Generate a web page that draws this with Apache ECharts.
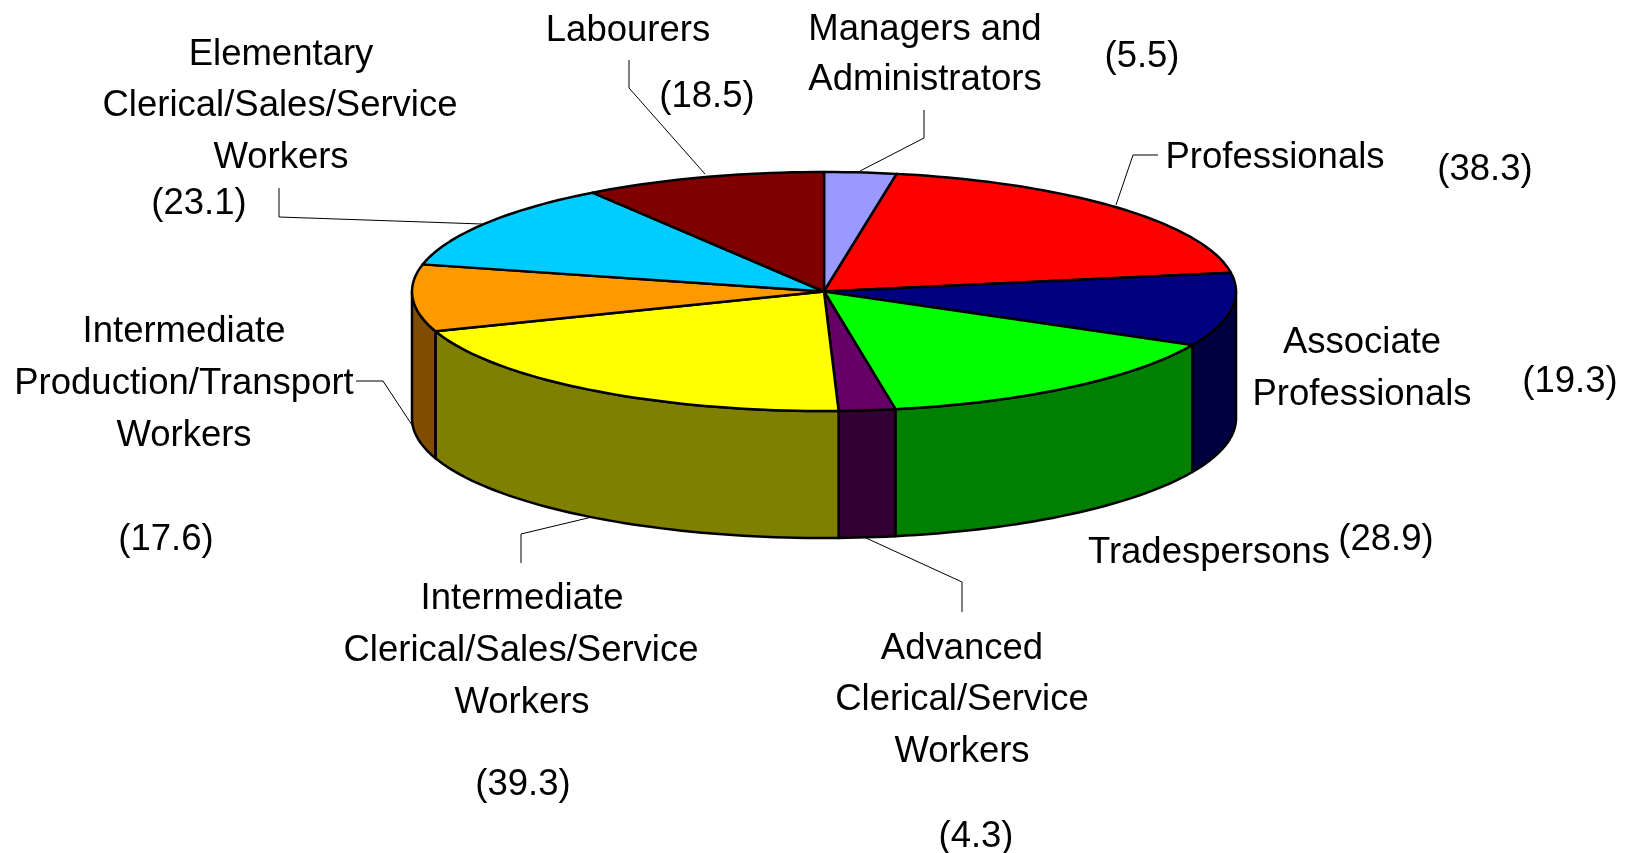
<!DOCTYPE html>
<html><head><meta charset="utf-8">
<style>html,body{margin:0;padding:0;background:#fff}#c{width:1631px;height:853px}</style>
<script src="https://cdn.jsdelivr.net/npm/echarts@6/dist/echarts.min.js"></script>
</head><body><div id="c"></div>
<script>
const categories = ['Managers and Administrators','Professionals','Associate Professionals','Tradespersons','Advanced Clerical/Service Workers','Intermediate Clerical/Sales/Service Workers','Intermediate Production/Transport Workers','Elementary Clerical/Sales/Service Workers','Labourers'];
const values = [5.5,38.3,19.3,28.9,4.3,39.3,17.6,23.1,18.5];
const topColors = ['#9999FF','#FF0000','#000080','#00FF00','#660066','#FFFF00','#FF9900','#00CCFF','#800000'];
const wallColors = ['#4C4C80','#800000','#000040','#008000','#330033','#808000','#804C00','#006680','#400000'];

// layout of the tilted disc
const CX = 824, CY = 291.5, RX = 412, RY = 119.5, DEPTH = 127;
// [text, x, y] centre of each text line
const textLayout = [
 ['Managers and',925,30],['Administrators',925,80],['(5.5)',1142,57],
 ['Professionals',1275,158],['(38.3)',1485,170],
 ['Associate',1362,343],['Professionals',1362,395],['(19.3)',1570,382],
 ['Tradespersons',1209,553],['(28.9)',1386,540],
 ['Advanced',962,649],['Clerical/Service',962,700],['Workers',962,752],['(4.3)',976,837],
 ['Intermediate',522,599],['Clerical/Sales/Service',521,651],['Workers',522,703],['(39.3)',523,785],
 ['Intermediate',184,332],['Production/Transport',184,384],['Workers',184,436],['(17.6)',166,540],
 ['Elementary',281,55],['Clerical/Sales/Service',280,106],['Workers',281,158],['(23.1)',199,204],
 ['Labourers',628,31],['(18.5)',707,97]
];
const leaderLayout = [
 [[860,171],[924,138],[924,110]],
 [[1116,205],[1133,155],[1158,155]],
 [[866,538],[962,582],[962,612]],
 [[592,517],[521,534],[521,563]],
 [[356,381],[383,381],[412,425]],
 [[482,224],[279,217],[279,188]],
 [[705,174],[629,88],[629,60]]
];

const total = values.reduce((a,b)=>a+b,0);
let run = 0;
const sliceData = values.map((v,i)=>{ const s=run; run+=v; return {name:categories[i], value:[i, s/total*360, run/total*360, v]}; });
const pt = (deg,dy)=>{ const t=deg*Math.PI/180; return [CX+RX*Math.sin(t), CY-RY*Math.cos(t)+(dy||0)]; };
const arc = (a,b,dy)=>{ const n=Math.max(2,Math.ceil(Math.abs(b-a)/1.5)); const o=[]; for(let k=0;k<=n;k++) o.push(pt(a+(b-a)*k/n,dy)); return o; };

const renderWall = (p,api)=>{
  const i=api.value(0), a=Math.max(api.value(1),90), b=Math.min(api.value(2),270);
  if(b<=a) return null;
  return {type:'polygon',shape:{points:arc(a,b,0).concat(arc(b,a,DEPTH))},
    style:{fill:wallColors[i],stroke:'#000',lineWidth:2.5,lineJoin:'round'}};
};
const renderTop = (p,api)=>{
  const i=api.value(0);
  return {type:'polygon',shape:{points:[[CX,CY]].concat(arc(api.value(1),api.value(2),0))},
    style:{fill:topColors[i],stroke:'#000',lineWidth:2.5,lineJoin:'round'}};
};

const graphic = [];
leaderLayout.forEach(l=>graphic.push({type:'polyline',silent:true,shape:{points:l},style:{stroke:'#000',lineWidth:1,fill:null}}));
textLayout.forEach(t=>graphic.push({type:'text',silent:true,x:t[1],y:t[2],style:{text:t[0],fill:'#000',font:'36.5px "Liberation Sans", Arial, sans-serif',textAlign:'center',textVerticalAlign:'middle'}}));

const chart = echarts.init(document.getElementById('c'),null,{renderer:'canvas'});
chart.setOption({
  animation:false, backgroundColor:'#fff',
  series:[
    {type:'custom',coordinateSystem:'none',silent:true,data:sliceData,renderItem:renderWall,z:1},
    {type:'custom',coordinateSystem:'none',silent:true,data:sliceData,renderItem:renderTop,z:2}
  ],
  graphic:{elements:graphic}
});
</script></body></html>
